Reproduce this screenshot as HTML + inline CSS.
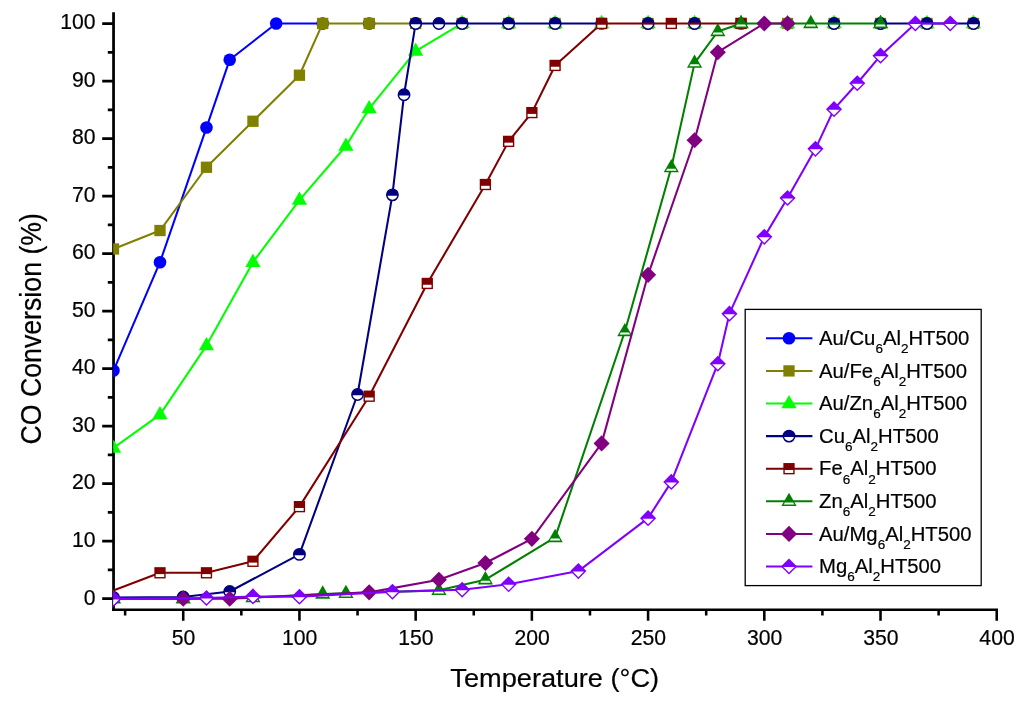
<!DOCTYPE html>
<html><head><meta charset="utf-8"><title>CO Conversion vs Temperature</title>
<style>
html,body{margin:0;padding:0;background:#fff}
body{width:1024px;height:703px;overflow:hidden}
svg{display:block}
text{font-family:"Liberation Sans",Arial,Helvetica,sans-serif;fill:#000;stroke:#000;stroke-width:.2px}
.tk{font-size:21.2px}
.ttl{font-size:27px}
.lg{font-size:20.3px}
.sub{font-size:13.5px}
</style></head><body>
<svg width="1024" height="703" viewBox="0 0 1024 703">
<rect width="1024" height="703" fill="#fff"/>
<defs><clipPath id="plot"><rect x="113.2" y="0" width="900" height="625"/></clipPath></defs>

<g stroke="#000" fill="none">
<path stroke-width="2.75" d="M113.55 12.3V610.98M113.55 598.70H102.2M113.55 541.19H102.2M113.55 483.68H102.2M113.55 426.17H102.2M113.55 368.66H102.2M113.55 311.15H102.2M113.55 253.64H102.2M113.55 196.13H102.2M113.55 138.62H102.2M113.55 81.11H102.2M113.55 23.60H102.2M113.55 569.95H107.8M113.55 512.44H107.8M113.55 454.93H107.8M113.55 397.42H107.8M113.55 339.91H107.8M113.55 282.40H107.8M113.55 224.89H107.8M113.55 167.38H107.8M113.55 109.87H107.8M113.55 52.36H107.8"/>
<path stroke-width="2.55" d="M112.17 609.7H998.01M183.23 609.7V620.7M299.44 609.7V620.7M415.66 609.7V620.7M531.87 609.7V620.7M648.09 609.7V620.7M764.30 609.7V620.7M880.52 609.7V620.7M996.73 609.7V620.7M125.12 609.7V615.6M241.34 609.7V615.6M357.55 609.7V615.6M473.77 609.7V615.6M589.98 609.7V615.6M706.20 609.7V615.6M822.41 609.7V615.6M938.63 609.7V615.6"/>
</g>
<g clip-path="url(#plot)">
<g fill="none" stroke="#0000ff" stroke-width="2.05" stroke-linejoin="round">
<polyline points="113.5,370.56 159.99,262.18 206.47,127.57 229.72,59.69 276.2,23.45 322.69,23.45"/>
</g><g>
<circle cx="113.5" cy="370.56" r="6.3" fill="#0000ff"/>
<circle cx="159.99" cy="262.18" r="6.3" fill="#0000ff"/>
<circle cx="206.47" cy="127.57" r="6.3" fill="#0000ff"/>
<circle cx="229.72" cy="59.69" r="6.3" fill="#0000ff"/>
<circle cx="276.2" cy="23.45" r="6.3" fill="#0000ff"/>
<circle cx="322.69" cy="23.45" r="6.3" fill="#0000ff"/>
<circle cx="369.17" cy="23.45" r="6.3" fill="#0000ff"/>
<circle cx="415.66" cy="23.45" r="6.3" fill="#0000ff"/>
<circle cx="462.14" cy="23.45" r="6.3" fill="#0000ff"/>
<circle cx="508.63" cy="23.45" r="6.3" fill="#0000ff"/>
<circle cx="555.12" cy="23.45" r="6.3" fill="#0000ff"/>
<circle cx="601.6" cy="23.45" r="6.3" fill="#0000ff"/>
<circle cx="648.09" cy="23.45" r="6.3" fill="#0000ff"/>
<circle cx="694.58" cy="23.45" r="6.3" fill="#0000ff"/>
<circle cx="741.06" cy="23.45" r="6.3" fill="#0000ff"/>
<circle cx="787.55" cy="23.45" r="6.3" fill="#0000ff"/>
<circle cx="834.03" cy="23.45" r="6.3" fill="#0000ff"/>
<circle cx="880.52" cy="23.45" r="6.3" fill="#0000ff"/>
<circle cx="927" cy="23.45" r="6.3" fill="#0000ff"/>
<circle cx="973.49" cy="23.45" r="6.3" fill="#0000ff"/>
</g>
<g fill="none" stroke="#808000" stroke-width="2.05" stroke-linejoin="round">
<polyline points="113.5,248.95 159.99,230.54 206.47,167.26 252.96,121.24 299.44,75.22 322.69,23.45 415.66,23.45"/>
</g><g>
<rect x="107.85" y="243.3" width="11.3" height="11.3" fill="#808000"/>
<rect x="154.34" y="224.89" width="11.3" height="11.3" fill="#808000"/>
<rect x="200.82" y="161.61" width="11.3" height="11.3" fill="#808000"/>
<rect x="247.31" y="115.59" width="11.3" height="11.3" fill="#808000"/>
<rect x="293.79" y="69.57" width="11.3" height="11.3" fill="#808000"/>
<rect x="317.04" y="17.8" width="11.3" height="11.3" fill="#808000"/>
<rect x="363.52" y="17.8" width="11.3" height="11.3" fill="#808000"/>
<rect x="410.01" y="17.8" width="11.3" height="11.3" fill="#808000"/>
<rect x="456.5" y="17.8" width="11.3" height="11.3" fill="#808000"/>
<rect x="502.98" y="17.8" width="11.3" height="11.3" fill="#808000"/>
<rect x="549.47" y="17.8" width="11.3" height="11.3" fill="#808000"/>
<rect x="595.95" y="17.8" width="11.3" height="11.3" fill="#808000"/>
<rect x="642.44" y="17.8" width="11.3" height="11.3" fill="#808000"/>
<rect x="688.93" y="17.8" width="11.3" height="11.3" fill="#808000"/>
<rect x="735.41" y="17.8" width="11.3" height="11.3" fill="#808000"/>
<rect x="781.9" y="17.8" width="11.3" height="11.3" fill="#808000"/>
<rect x="828.38" y="17.8" width="11.3" height="11.3" fill="#808000"/>
<rect x="874.87" y="17.8" width="11.3" height="11.3" fill="#808000"/>
<rect x="921.36" y="17.8" width="11.3" height="11.3" fill="#808000"/>
<rect x="967.84" y="17.8" width="11.3" height="11.3" fill="#808000"/>
</g>
<g fill="none" stroke="#00ff00" stroke-width="2.05" stroke-linejoin="round">
<polyline points="113.5,447.98 159.99,414.62 206.47,345.59 252.96,262.18 299.44,200.05 345.93,145.98 369.17,108.59 415.66,51.06 462.14,23.45"/>
</g><g>
<path d="M113.5 439.38L121.1 452.68H105.9Z" fill="#00ff00"/>
<path d="M159.99 406.02L167.59 419.32H152.39Z" fill="#00ff00"/>
<path d="M206.47 336.99L214.07 350.29H198.87Z" fill="#00ff00"/>
<path d="M252.96 253.58L260.56 266.88H245.36Z" fill="#00ff00"/>
<path d="M299.44 191.45L307.04 204.75H291.84Z" fill="#00ff00"/>
<path d="M345.93 137.38L353.53 150.68H338.33Z" fill="#00ff00"/>
<path d="M369.17 99.99L376.77 113.29H361.57Z" fill="#00ff00"/>
<path d="M415.66 42.46L423.26 55.76H408.06Z" fill="#00ff00"/>
<path d="M462.14 14.85L469.75 28.15H454.54Z" fill="#00ff00"/>
<path d="M508.63 14.85L516.23 28.15H501.03Z" fill="#00ff00"/>
<path d="M555.12 14.85L562.72 28.15H547.52Z" fill="#00ff00"/>
<path d="M601.6 14.85L609.2 28.15H594Z" fill="#00ff00"/>
<path d="M648.09 14.85L655.69 28.15H640.49Z" fill="#00ff00"/>
<path d="M694.58 14.85L702.18 28.15H686.98Z" fill="#00ff00"/>
<path d="M741.06 14.85L748.66 28.15H733.46Z" fill="#00ff00"/>
<path d="M787.55 14.85L795.15 28.15H779.95Z" fill="#00ff00"/>
<path d="M834.03 14.85L841.63 28.15H826.43Z" fill="#00ff00"/>
<path d="M880.52 14.85L888.12 28.15H872.92Z" fill="#00ff00"/>
<path d="M927 14.85L934.61 28.15H919.4Z" fill="#00ff00"/>
<path d="M973.49 14.85L981.09 28.15H965.89Z" fill="#00ff00"/>
</g>
<g fill="none" stroke="#000080" stroke-width="2.05" stroke-linejoin="round">
<polyline points="113.5,597.55 183.23,596.97 229.72,591.51 299.44,554.41 357.55,394.49 392.42,194.87 404.04,94.78 415.66,23.45 601.6,23.45"/>
<polyline points="880.52,23.45 973.49,23.45"/>
</g><g>
<circle cx="113.5" cy="597.55" r="5.7" fill="#fff" stroke="#000080" stroke-width="1.5"/><path d="M107.86 598.35A5.7 5.7 0 1 1 119.14 598.35Z" fill="#000080"/>
<circle cx="183.23" cy="596.97" r="5.7" fill="#fff" stroke="#000080" stroke-width="1.5"/><path d="M177.59 597.77A5.7 5.7 0 1 1 188.87 597.77Z" fill="#000080"/>
<circle cx="229.72" cy="591.51" r="5.7" fill="#fff" stroke="#000080" stroke-width="1.5"/><path d="M224.07 592.31A5.7 5.7 0 1 1 235.36 592.31Z" fill="#000080"/>
<circle cx="299.44" cy="554.41" r="5.7" fill="#fff" stroke="#000080" stroke-width="1.5"/><path d="M293.8 555.21A5.7 5.7 0 1 1 305.09 555.21Z" fill="#000080"/>
<circle cx="357.55" cy="394.49" r="5.7" fill="#fff" stroke="#000080" stroke-width="1.5"/><path d="M351.91 395.29A5.7 5.7 0 1 1 363.2 395.29Z" fill="#000080"/>
<circle cx="392.42" cy="194.87" r="5.7" fill="#fff" stroke="#000080" stroke-width="1.5"/><path d="M386.77 195.67A5.7 5.7 0 1 1 398.06 195.67Z" fill="#000080"/>
<circle cx="404.04" cy="94.78" r="5.7" fill="#fff" stroke="#000080" stroke-width="1.5"/><path d="M398.39 95.58A5.7 5.7 0 1 1 409.68 95.58Z" fill="#000080"/>
<circle cx="415.66" cy="23.45" r="5.7" fill="#fff" stroke="#000080" stroke-width="1.5"/><path d="M410.02 24.25A5.7 5.7 0 1 1 421.3 24.25Z" fill="#000080"/>
<circle cx="438.9" cy="23.45" r="5.7" fill="#fff" stroke="#000080" stroke-width="1.5"/><path d="M433.26 24.25A5.7 5.7 0 1 1 444.55 24.25Z" fill="#000080"/>
<circle cx="462.14" cy="23.45" r="5.7" fill="#fff" stroke="#000080" stroke-width="1.5"/><path d="M456.5 24.25A5.7 5.7 0 1 1 467.79 24.25Z" fill="#000080"/>
<circle cx="508.63" cy="23.45" r="5.7" fill="#fff" stroke="#000080" stroke-width="1.5"/><path d="M502.99 24.25A5.7 5.7 0 1 1 514.27 24.25Z" fill="#000080"/>
<circle cx="555.12" cy="23.45" r="5.7" fill="#fff" stroke="#000080" stroke-width="1.5"/><path d="M549.47 24.25A5.7 5.7 0 1 1 560.76 24.25Z" fill="#000080"/>
<circle cx="648.09" cy="23.45" r="5.7" fill="#fff" stroke="#000080" stroke-width="1.5"/><path d="M642.45 24.25A5.7 5.7 0 1 1 653.73 24.25Z" fill="#000080"/>
<circle cx="694.58" cy="23.45" r="5.7" fill="#fff" stroke="#000080" stroke-width="1.5"/><path d="M688.93 24.25A5.7 5.7 0 1 1 700.22 24.25Z" fill="#000080"/>
<circle cx="834.03" cy="23.45" r="5.7" fill="#fff" stroke="#000080" stroke-width="1.5"/><path d="M828.39 24.25A5.7 5.7 0 1 1 839.68 24.25Z" fill="#000080"/>
<circle cx="880.52" cy="23.45" r="5.7" fill="#fff" stroke="#000080" stroke-width="1.5"/><path d="M874.88 24.25A5.7 5.7 0 1 1 886.16 24.25Z" fill="#000080"/>
<circle cx="927" cy="23.45" r="5.7" fill="#fff" stroke="#000080" stroke-width="1.5"/><path d="M921.36 24.25A5.7 5.7 0 1 1 932.65 24.25Z" fill="#000080"/>
<circle cx="973.49" cy="23.45" r="5.7" fill="#fff" stroke="#000080" stroke-width="1.5"/><path d="M967.85 24.25A5.7 5.7 0 1 1 979.13 24.25Z" fill="#000080"/>
</g>
<g fill="none" stroke="#800000" stroke-width="2.05" stroke-linejoin="round">
<polyline points="90.26,599.28 159.99,572.81 206.47,572.81 252.96,561.31 299.44,506.66 369.17,396.21 427.28,283.46 485.39,184.52 508.63,141.38 531.87,112.61 555.12,65.44 601.6,23.45 741.06,23.45"/>
</g><g>
<rect x="154.34" y="567.16" width="11.3" height="11.3" fill="#800000"/><rect x="155.74" y="574.11" width="8.5" height="2.95" fill="#fff"/>
<rect x="200.82" y="567.16" width="11.3" height="11.3" fill="#800000"/><rect x="202.22" y="574.11" width="8.5" height="2.95" fill="#fff"/>
<rect x="247.31" y="555.66" width="11.3" height="11.3" fill="#800000"/><rect x="248.71" y="562.61" width="8.5" height="2.95" fill="#fff"/>
<rect x="293.79" y="501.01" width="11.3" height="11.3" fill="#800000"/><rect x="295.19" y="507.96" width="8.5" height="2.95" fill="#fff"/>
<rect x="363.52" y="390.56" width="11.3" height="11.3" fill="#800000"/><rect x="364.92" y="397.51" width="8.5" height="2.95" fill="#fff"/>
<rect x="421.63" y="277.81" width="11.3" height="11.3" fill="#800000"/><rect x="423.03" y="284.76" width="8.5" height="2.95" fill="#fff"/>
<rect x="479.74" y="178.87" width="11.3" height="11.3" fill="#800000"/><rect x="481.14" y="185.82" width="8.5" height="2.95" fill="#fff"/>
<rect x="502.98" y="135.73" width="11.3" height="11.3" fill="#800000"/><rect x="504.38" y="142.68" width="8.5" height="2.95" fill="#fff"/>
<rect x="526.22" y="106.96" width="11.3" height="11.3" fill="#800000"/><rect x="527.62" y="113.91" width="8.5" height="2.95" fill="#fff"/>
<rect x="549.47" y="59.79" width="11.3" height="11.3" fill="#800000"/><rect x="550.87" y="66.74" width="8.5" height="2.95" fill="#fff"/>
<rect x="595.95" y="17.8" width="11.3" height="11.3" fill="#800000"/><rect x="597.35" y="24.75" width="8.5" height="2.95" fill="#fff"/>
<rect x="665.68" y="17.8" width="11.3" height="11.3" fill="#800000"/><rect x="667.08" y="24.75" width="8.5" height="2.95" fill="#fff"/>
<rect x="735.41" y="17.8" width="11.3" height="11.3" fill="#800000"/><rect x="736.81" y="24.75" width="8.5" height="2.95" fill="#fff"/>
</g>
<g fill="none" stroke="#008000" stroke-width="2.05" stroke-linejoin="round">
<polyline points="113.5,598.7 183.23,598.7 252.96,597.55 322.69,593.93 345.93,593.35 438.9,590.36 485.39,579.72 555.12,537.44 624.85,331.5 671.33,167.55 694.58,63.14 717.82,31.5 741.06,23.45 810.79,23.45 880.52,23.45"/>
</g><g>
<path d="M113.5 590.1L121.1 603.4H105.9Z" fill="#008000"/><path d="M109.4 599.8H117.6L118.75 601.8H108.25Z" fill="#fff"/>
<path d="M183.23 590.1L190.83 603.4H175.63Z" fill="#008000"/><path d="M179.13 599.8H187.33L188.48 601.8H177.98Z" fill="#fff"/>
<path d="M252.96 588.95L260.56 602.25H245.36Z" fill="#008000"/><path d="M248.85 598.65H257.06L258.2 600.65H247.71Z" fill="#fff"/>
<path d="M322.69 585.33L330.29 598.63H315.09Z" fill="#008000"/><path d="M318.58 595.03H326.79L327.93 597.03H317.44Z" fill="#fff"/>
<path d="M345.93 584.75L353.53 598.05H338.33Z" fill="#008000"/><path d="M341.83 594.45H350.03L351.18 596.45H340.68Z" fill="#fff"/>
<path d="M438.9 581.76L446.5 595.06H431.3Z" fill="#008000"/><path d="M434.8 591.46H443.01L444.15 593.46H433.66Z" fill="#fff"/>
<path d="M485.39 571.12L492.99 584.42H477.79Z" fill="#008000"/><path d="M481.28 580.82H489.49L490.63 582.82H480.14Z" fill="#fff"/>
<path d="M555.12 528.84L562.72 542.14H547.52Z" fill="#008000"/><path d="M551.01 538.54H559.22L560.36 540.54H549.87Z" fill="#fff"/>
<path d="M624.85 322.9L632.45 336.2H617.25Z" fill="#008000"/><path d="M620.74 332.6H628.95L630.09 334.6H619.6Z" fill="#fff"/>
<path d="M671.33 158.95L678.93 172.25H663.73Z" fill="#008000"/><path d="M667.23 168.65H675.44L676.58 170.65H666.09Z" fill="#fff"/>
<path d="M694.58 54.54L702.18 67.84H686.98Z" fill="#008000"/><path d="M690.47 64.24H698.68L699.82 66.24H689.33Z" fill="#fff"/>
<path d="M717.82 22.9L725.42 36.2H710.22Z" fill="#008000"/><path d="M713.71 32.6H721.92L723.06 34.6H712.57Z" fill="#fff"/>
<path d="M741.06 14.85L748.66 28.15H733.46Z" fill="#008000"/><path d="M736.96 24.55H745.16L746.31 26.55H735.81Z" fill="#fff"/>
<path d="M810.79 14.85L818.39 28.15H803.19Z" fill="#008000"/><path d="M806.69 24.55H814.89L816.04 26.55H805.54Z" fill="#fff"/>
<path d="M880.52 14.85L888.12 28.15H872.92Z" fill="#008000"/><path d="M876.42 24.55H884.62L885.77 26.55H875.27Z" fill="#fff"/>
</g>
<g fill="none" stroke="#800080" stroke-width="2.05" stroke-linejoin="round">
<polyline points="113.5,598.7 183.23,598.7 229.72,598.7 369.17,592.37 438.9,579.72 485.39,563.03 531.87,538.87 601.6,443.38 648.09,274.83 694.58,140.23 717.82,52.21 764.3,23.45 787.55,23.45"/>
</g><g>
<path d="M113.5 590.65L121.55 598.7L113.5 606.75L105.45 598.7Z" fill="#800080"/>
<path d="M183.23 590.65L191.28 598.7L183.23 606.75L175.18 598.7Z" fill="#800080"/>
<path d="M229.72 590.65L237.77 598.7L229.72 606.75L221.66 598.7Z" fill="#800080"/>
<path d="M369.17 584.32L377.22 592.37L369.17 600.42L361.12 592.37Z" fill="#800080"/>
<path d="M438.9 571.67L446.95 579.72L438.9 587.77L430.85 579.72Z" fill="#800080"/>
<path d="M485.39 554.98L493.44 563.03L485.39 571.08L477.34 563.03Z" fill="#800080"/>
<path d="M531.87 530.82L539.92 538.87L531.87 546.92L523.82 538.87Z" fill="#800080"/>
<path d="M601.6 435.33L609.65 443.38L601.6 451.43L593.55 443.38Z" fill="#800080"/>
<path d="M648.09 266.78L656.14 274.83L648.09 282.88L640.04 274.83Z" fill="#800080"/>
<path d="M694.58 132.18L702.62 140.23L694.58 148.28L686.53 140.23Z" fill="#800080"/>
<path d="M717.82 44.16L725.87 52.21L717.82 60.26L709.77 52.21Z" fill="#800080"/>
<path d="M764.3 15.4L772.35 23.45L764.3 31.5L756.25 23.45Z" fill="#800080"/>
<path d="M787.55 15.4L795.6 23.45L787.55 31.5L779.5 23.45Z" fill="#800080"/>
</g>
<g fill="none" stroke="#8000ff" stroke-width="2.05" stroke-linejoin="round">
<polyline points="113.5,598.99 206.47,598.01 252.96,596.4 299.44,596.69 392.42,591.8 462.14,589.78 508.63,584.32 578.36,571.09 648.09,518.17 671.33,481.92 717.82,363.71 729.44,313.66 764.3,236.87 787.55,198.04 815.44,148.85 834.03,109.16 857.28,83.28 880.52,55.66 915.38,23.45 950.25,23.45"/>
</g><g>
<path d="M113.5 590.94L121.55 598.99L113.5 607.04L105.45 598.99Z" fill="#8000ff"/><path d="M107.93 599.49H119.07L113.5 605.06Z" fill="#fff"/>
<path d="M206.47 589.96L214.52 598.01L206.47 606.06L198.42 598.01Z" fill="#8000ff"/><path d="M200.9 598.51H212.04L206.47 604.08Z" fill="#fff"/>
<path d="M252.96 588.35L261.01 596.4L252.96 604.45L244.91 596.4Z" fill="#8000ff"/><path d="M247.39 596.9H258.53L252.96 602.47Z" fill="#fff"/>
<path d="M299.44 588.64L307.49 596.69L299.44 604.74L291.39 596.69Z" fill="#8000ff"/><path d="M293.87 597.19H305.01L299.44 602.76Z" fill="#fff"/>
<path d="M392.42 583.75L400.47 591.8L392.42 599.85L384.37 591.8Z" fill="#8000ff"/><path d="M386.85 592.3H397.99L392.42 597.87Z" fill="#fff"/>
<path d="M462.14 581.73L470.19 589.78L462.14 597.83L454.09 589.78Z" fill="#8000ff"/><path d="M456.57 590.28H467.72L462.14 595.85Z" fill="#fff"/>
<path d="M508.63 576.27L516.68 584.32L508.63 592.37L500.58 584.32Z" fill="#8000ff"/><path d="M503.06 584.82H514.2L508.63 590.39Z" fill="#fff"/>
<path d="M578.36 563.04L586.41 571.09L578.36 579.14L570.31 571.09Z" fill="#8000ff"/><path d="M572.79 571.59H583.93L578.36 577.16Z" fill="#fff"/>
<path d="M648.09 510.12L656.14 518.17L648.09 526.22L640.04 518.17Z" fill="#8000ff"/><path d="M642.52 518.67H653.66L648.09 524.24Z" fill="#fff"/>
<path d="M671.33 473.87L679.38 481.92L671.33 489.97L663.28 481.92Z" fill="#8000ff"/><path d="M665.76 482.42H676.9L671.33 487.99Z" fill="#fff"/>
<path d="M717.82 355.66L725.87 363.71L717.82 371.76L709.77 363.71Z" fill="#8000ff"/><path d="M712.25 364.21H723.39L717.82 369.78Z" fill="#fff"/>
<path d="M729.44 305.61L737.49 313.66L729.44 321.71L721.39 313.66Z" fill="#8000ff"/><path d="M723.87 314.16H735.01L729.44 319.73Z" fill="#fff"/>
<path d="M764.3 228.82L772.35 236.87L764.3 244.92L756.25 236.87Z" fill="#8000ff"/><path d="M758.73 237.37H769.87L764.3 242.94Z" fill="#fff"/>
<path d="M787.55 189.99L795.6 198.04L787.55 206.09L779.5 198.04Z" fill="#8000ff"/><path d="M781.98 198.54H793.12L787.55 204.11Z" fill="#fff"/>
<path d="M815.44 140.8L823.49 148.85L815.44 156.9L807.39 148.85Z" fill="#8000ff"/><path d="M809.87 149.35H821.01L815.44 154.92Z" fill="#fff"/>
<path d="M834.03 101.11L842.08 109.16L834.03 117.21L825.98 109.16Z" fill="#8000ff"/><path d="M828.46 109.66H839.6L834.03 115.23Z" fill="#fff"/>
<path d="M857.28 75.23L865.33 83.28L857.28 91.33L849.23 83.28Z" fill="#8000ff"/><path d="M851.71 83.78H862.85L857.28 89.35Z" fill="#fff"/>
<path d="M880.52 47.61L888.57 55.66L880.52 63.71L872.47 55.66Z" fill="#8000ff"/><path d="M874.95 56.16H886.09L880.52 61.73Z" fill="#fff"/>
<path d="M915.38 15.4L923.43 23.45L915.38 31.5L907.33 23.45Z" fill="#8000ff"/><path d="M909.81 23.95H920.95L915.38 29.52Z" fill="#fff"/>
<path d="M950.25 15.4L958.3 23.45L950.25 31.5L942.2 23.45Z" fill="#8000ff"/><path d="M944.68 23.95H955.82L950.25 29.52Z" fill="#fff"/>
</g>
</g>
<g class="tk" text-anchor="middle">
<text x="183.53" y="644.9">50</text>
<text x="299.74" y="644.9">100</text>
<text x="415.96" y="644.9">150</text>
<text x="532.17" y="644.9">200</text>
<text x="648.39" y="644.9">250</text>
<text x="764.60" y="644.9">300</text>
<text x="880.82" y="644.9">350</text>
<text x="997.03" y="644.9">400</text>
</g><g class="tk" text-anchor="end">
<text x="95.5" y="604.50">0</text>
<text x="95.5" y="546.99">10</text>
<text x="95.5" y="489.48">20</text>
<text x="95.5" y="431.97">30</text>
<text x="95.5" y="374.46">40</text>
<text x="95.5" y="316.95">50</text>
<text x="95.5" y="259.44">60</text>
<text x="95.5" y="201.93">70</text>
<text x="95.5" y="144.42">80</text>
<text x="95.5" y="86.91">90</text>
<text x="95.5" y="29.40">100</text>
</g>
<text class="ttl" text-anchor="middle" transform="translate(554.7 687) scale(1 .952)" style="font-size:27.2px">Temperature (°C)</text>
<text class="ttl" text-anchor="middle" transform="translate(40.6 328.8) rotate(-90) scale(1 1.126)" style="font-size:26.7px">CO Conversion (%)</text>
<rect x="745.2" y="309.4" width="236" height="276.2" fill="#fff" stroke="#000" stroke-width="1.3"/>
<path d="M766 338.30H812.4" stroke="#0000ff" stroke-width="2.05"/>
<circle cx="789" cy="338.3" r="6.3" fill="#0000ff"/>
<text class="lg" x="819" y="344.90">Au/Cu<tspan class="sub" dy="8.3">6</tspan><tspan dy="-8.3">Al</tspan><tspan class="sub" dy="8.3">2</tspan><tspan dy="-8.3">HT500</tspan></text>
<path d="M766 370.90H812.4" stroke="#808000" stroke-width="2.05"/>
<rect x="783.35" y="365.25" width="11.3" height="11.3" fill="#808000"/>
<text class="lg" x="819" y="377.50">Au/Fe<tspan class="sub" dy="8.3">6</tspan><tspan dy="-8.3">Al</tspan><tspan class="sub" dy="8.3">2</tspan><tspan dy="-8.3">HT500</tspan></text>
<path d="M766 403.50H812.4" stroke="#00ff00" stroke-width="2.05"/>
<path d="M789 394.9L796.6 408.2H781.4Z" fill="#00ff00"/>
<text class="lg" x="819" y="410.10">Au/Zn<tspan class="sub" dy="8.3">6</tspan><tspan dy="-8.3">Al</tspan><tspan class="sub" dy="8.3">2</tspan><tspan dy="-8.3">HT500</tspan></text>
<path d="M766 436.10H812.4" stroke="#000080" stroke-width="2.05"/>
<circle cx="789" cy="436.1" r="5.7" fill="#fff" stroke="#000080" stroke-width="1.5"/><path d="M783.36 436.9A5.7 5.7 0 1 1 794.64 436.9Z" fill="#000080"/>
<text class="lg" x="819" y="442.70">Cu<tspan class="sub" dy="8.3">6</tspan><tspan dy="-8.3">Al</tspan><tspan class="sub" dy="8.3">2</tspan><tspan dy="-8.3">HT500</tspan></text>
<path d="M766 468.70H812.4" stroke="#800000" stroke-width="2.05"/>
<rect x="783.35" y="463.05" width="11.3" height="11.3" fill="#800000"/><rect x="784.75" y="470" width="8.5" height="2.95" fill="#fff"/>
<text class="lg" x="819" y="475.30">Fe<tspan class="sub" dy="8.3">6</tspan><tspan dy="-8.3">Al</tspan><tspan class="sub" dy="8.3">2</tspan><tspan dy="-8.3">HT500</tspan></text>
<path d="M766 501.30H812.4" stroke="#008000" stroke-width="2.05"/>
<path d="M789 492.7L796.6 506H781.4Z" fill="#008000"/><path d="M784.9 502.4H793.1L794.25 504.4H783.75Z" fill="#fff"/>
<text class="lg" x="819" y="507.90">Zn<tspan class="sub" dy="8.3">6</tspan><tspan dy="-8.3">Al</tspan><tspan class="sub" dy="8.3">2</tspan><tspan dy="-8.3">HT500</tspan></text>
<path d="M766 533.90H812.4" stroke="#800080" stroke-width="2.05"/>
<path d="M789 525.85L797.05 533.9L789 541.95L780.95 533.9Z" fill="#800080"/>
<text class="lg" x="819" y="540.50">Au/Mg<tspan class="sub" dy="8.3">6</tspan><tspan dy="-8.3">Al</tspan><tspan class="sub" dy="8.3">2</tspan><tspan dy="-8.3">HT500</tspan></text>
<path d="M766 566.50H812.4" stroke="#8000ff" stroke-width="2.05"/>
<path d="M789 558.45L797.05 566.5L789 574.55L780.95 566.5Z" fill="#8000ff"/><path d="M783.43 567H794.57L789 572.57Z" fill="#fff"/>
<text class="lg" x="819" y="573.10">Mg<tspan class="sub" dy="8.3">6</tspan><tspan dy="-8.3">Al</tspan><tspan class="sub" dy="8.3">2</tspan><tspan dy="-8.3">HT500</tspan></text>
</svg></body></html>
